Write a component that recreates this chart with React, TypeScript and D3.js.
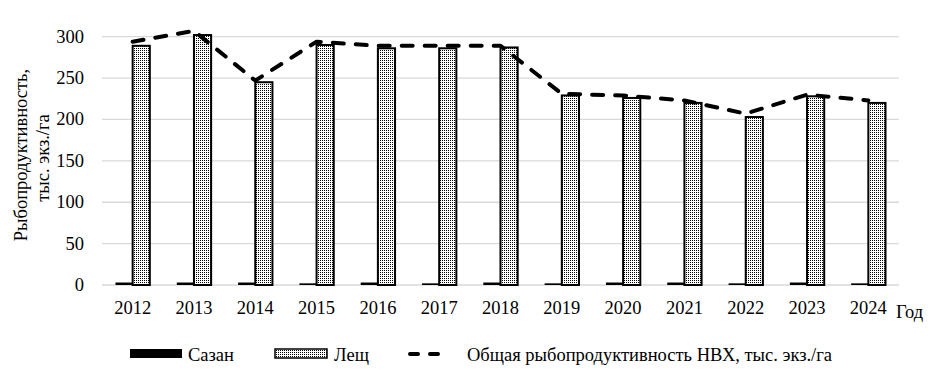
import React from "react";
import * as d3 from "d3";

const years = ["2012","2013","2014","2015","2016","2017","2018","2019","2020","2021","2022","2023","2024"];
const sazan = [3, 3, 3, 2, 3, 2, 3, 2, 3, 3, 2, 3, 2];
const leshch = [289, 302, 245, 290, 286, 286, 287, 229, 226, 220, 203, 228, 220];
const total = [294, 307, 247, 294, 289, 289, 289, 231, 229, 223, 207, 230, 223];
const yTicks = [0, 50, 100, 150, 200, 250, 300];

const W = 942, H = 383;
const left = 102, right = 899, top = 36.7, bottom = 285;
const FONT = "'Liberation Serif', 'Times New Roman', serif";
const FS = 18.5;

export default function App() {
  const x = d3.scaleBand<string>().domain(years).range([left, right]).paddingInner(0.44).paddingOuter(0.22);
  const x1 = d3.scaleBand<string>().domain(["s", "l"]).range([0, x.bandwidth()]);
  const y = d3.scaleLinear().domain([0, 300]).range([bottom, top]);
  const line = d3.line<number>().x((_, i) => (x(years[i]) as number) + x.bandwidth() / 2).y(d => y(d));

  return (
    <svg width={W} height={H} style={{ position: "absolute", left: 0, top: 0, background: "#fff", fontFamily: FONT }}>
      <defs>
        <pattern id="dots" width="2" height="2" patternUnits="userSpaceOnUse">
          <rect width="2" height="2" fill="#fff" />
          <rect width="1" height="1" fill="#000" />
        </pattern>
      </defs>
      {yTicks.map(t => (
        <g key={t}>
          <line x1={left} x2={right} y1={y(t)} y2={y(t)} stroke="#d9d9d9" strokeWidth={1.3} />
          <text x={84} y={y(t) + 6} textAnchor="end" fontSize={FS} fill="#000">{t}</text>
        </g>
      ))}
      {years.map((yr, i) => {
        const gx = x(yr) as number;
        return (
          <g key={yr}>
            <rect x={gx + (x1("s") as number)} y={y(sazan[i])} width={x1.bandwidth()} height={bottom - y(sazan[i])} fill="#000" />
            <rect x={gx + (x1("l") as number)} y={y(leshch[i])} width={x1.bandwidth()} height={bottom - y(leshch[i])} fill="url(#dots)" stroke="#000" strokeWidth={2} />
            <text x={gx + x.bandwidth() / 2} y={314} textAnchor="middle" fontSize={FS} fill="#000">{yr}</text>
          </g>
        );
      })}
      <path d={line(total) || ""} fill="none" stroke="#000" strokeWidth={4} strokeDasharray="11,12" strokeLinecap="round" strokeLinejoin="round" />
      <text x={896} y={318} fontSize={FS} fill="#000">Год</text>
      <text transform="translate(27,155) rotate(-90)" textAnchor="middle" fontSize={FS} fill="#000">Рыбопродуктивность,</text>
      <text transform="translate(49,158) rotate(-90)" textAnchor="middle" fontSize={FS} fill="#000">тыс. экз./га</text>
      <g>
        <rect x={130} y={349} width={52} height={9} fill="#000" />
        <text x={188} y={361} fontSize={FS} fill="#000">Сазан</text>
        <rect x={275} y={349} width={52} height={9} fill="url(#dots)" stroke="#000" strokeWidth={1.5} />
        <text x={334} y={361} fontSize={FS} fill="#000">Лещ</text>
        <line x1={410} x2={449} y1={354} y2={354} stroke="#000" strokeWidth={4} strokeDasharray="8,12" strokeLinecap="round" />
        <text x={467} y={361} fontSize={FS} fill="#000">Общая рыбопродуктивность НВХ, тыс. экз./га</text>
      </g>
    </svg>
  );
}
